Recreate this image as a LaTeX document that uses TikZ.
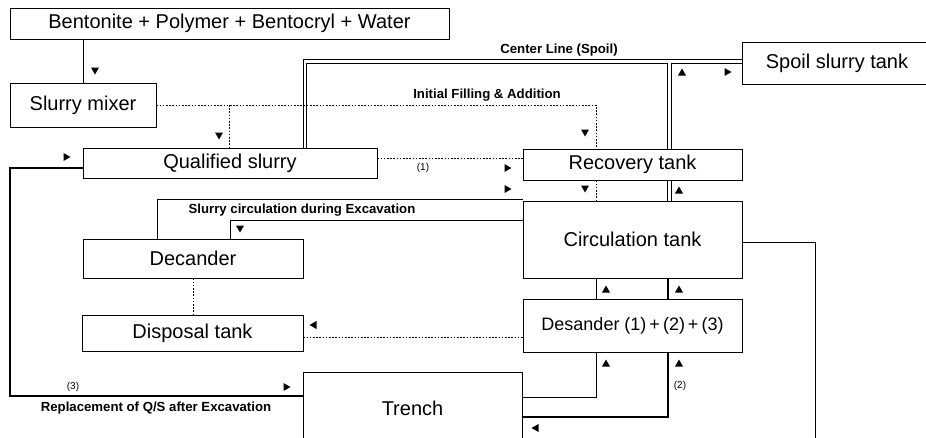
\documentclass[tikz,border=0pt]{standalone}
\usepackage{fontspec}
\setmainfont{Liberation Sans}
\usetikzlibrary{calc}
\newcommand\TriD[1]{\fill (#1) ++(-4,-3.5) -- ++(8,0) -- ++(-4,7) -- cycle;}
\newcommand\TriU[1]{\fill (#1) ++(-4,3.5) -- ++(8,0) -- ++(-4,-7) -- cycle;}
\newcommand\TriR[1]{\fill (#1) ++(-3.5,-4) -- ++(0,8) -- ++(7,-4) -- cycle;}
\newcommand\TriL[1]{\fill (#1) ++(3.5,-4) -- ++(0,8) -- ++(-7,-4) -- cycle;}
\tikzset{
 box/.style={draw, line width=0.9pt, inner sep=0pt, align=center, font=\fontsize{20}{24}\selectfont},
 thinln/.style={line width=0.9pt},
 thickln/.style={line width=2.8pt},
 dotln/.style={line width=0.9pt, dash pattern=on 1.6pt off 1.6pt},
 lbl/.style={font=\bfseries\fontsize{13.2}{15}\selectfont, inner sep=0pt},
 num/.style={font=\fontsize{10}{12}\selectfont, inner sep=0pt},
}
\begin{document}
\begin{tikzpicture}[x=1pt,y=-1pt]
\useasboundingbox (0,0) rectangle (926,437);
\clip (0,0) rectangle (926,437);
% boxes
\node[box, minimum width=439pt, minimum height=31pt] (top) at (229.5,23.5) {Bentonite + Polymer + Bentocryl + Water};
\node[box, minimum width=146pt, minimum height=44pt] (mixer) at (83,105) {Slurry mixer};
\node[box, minimum width=190pt, minimum height=42pt] (spoil) at (837,63) {Spoil slurry tank};
\node[box, minimum width=294pt, minimum height=30pt] (qs) at (230,163) {Qualified slurry};
\node[box, minimum width=219pt, minimum height=31pt] (rec) at (632.5,164.5) {Recovery tank};
\node[box, minimum width=219pt, minimum height=77pt] (circ) at (632.5,239.5) {Circulation tank};
\node[box, minimum width=220pt, minimum height=39pt] (dec) at (193,258.5) {Decander};
\node[box, minimum width=221pt, minimum height=36pt] (disp) at (192.5,333) {Disposal tank};
\node[box, minimum width=219pt, minimum height=53pt, font=\fontsize{18}{22}\selectfont] (des) at (632.5,325.5) {Desander (1)\,+\,(2)\,+\,(3)};
\node[box, minimum width=219pt, minimum height=73pt] (tr) at (412.5,408.5) {Trench};
% top -> mixer
\draw[thinln] (top.south -| mixer.north) -- (mixer.north);
\TriD{95,71}
% initial filling
\coordinate (ifr) at (596,104);
\coordinate (ifq) at (229,104);
\draw[dotln] (mixer.east) -- (mixer.east -| ifr) -- (ifr |- rec.north);
\draw[dotln] (mixer.east -| ifq) -- (ifq |- qs.north);
\TriD{219,136}
\TriD{585,133}
\node[lbl] at (487,95) {Initial Filling \& Addition};
\draw[dotln] (ifr |- rec.south) -- (ifr |- circ.north);
\TriD{585,189}
% center line (double)
\coordinate (oL) at (303,59);
\coordinate (iL) at (306,63);
\coordinate (sL) at (667,63);
\coordinate (sR) at (671,63);
\draw[thinln] (oL |- qs.north) -- (oL) -- (oL -| spoil.west);
\draw[thinln] (iL |- qs.north) -- (iL) -- (sL) -- (sL |- rec.north);
\draw[thinln] (sR |- rec.north) -- (sR) -- (sR -| spoil.west);
\draw[thinln] (sL |- rec.south) -- (sL |- circ.north);
\draw[thinln] (sR |- rec.south) -- (sR |- circ.north);
\node[lbl] at (559,50) {Center Line (Spoil)};
\TriU{682,72}
\TriR{728,72}
\TriU{679,190}
% qs -> recovery
\coordinate (q1) at (0,158);
\draw[dotln] (qs.east |- q1) -- (rec.west |- q1);
\node[num] at (423,168) {(1)};
\TriR{508,168}
% replacement (thick)
\coordinate (r1) at (10,168);
\coordinate (r2) at (10,396);
\draw[thickln] (qs.west |- r1) -- (r1) -- (r2) -- (r2 -| tr.west);
\TriR{67,157}
\TriR{287,387}
\node[num] at (73,387) {(3)};
\node[lbl] at (156,408) {Replacement of Q/S after Excavation};
% slurry circulation
\coordinate (c1) at (157,199);
\coordinate (c2) at (230,220);
\draw[thinln] (c1 |- dec.north) -- (c1) -- (c1 -| circ.west);
\draw[thinln] (circ.west |- c2) -- (c2) -- (c2 |- dec.north);
\TriD{240,229}
\TriR{508,189}
\node[lbl] at (302,210) {Slurry circulation during Excavation};
% decander -> disposal, desander -> disposal
\draw[dotln] (dec.south) -- (dec.south |- disp.north);
\coordinate (d1) at (0,337);
\draw[dotln] (des.west |- d1) -- (disp.east |- d1);
\TriL{313,325}
% desander -> circulation
\coordinate (a1) at (596,0);
\coordinate (a2) at (668,0);
\draw[thinln] (a1 |- des.north) -- (a1 |- circ.south);
\draw[thickln] (a2 |- des.north) -- (a2 |- circ.south);
\TriU{606,289}
\TriU{679,289}
% trench -> desander
\coordinate (t1) at (596,397);
\coordinate (t2) at (668,417);
\draw[thinln] (tr.east |- t1) -- (t1) -- (t1 |- des.south);
\draw[thickln] (tr.east |- t2) -- (t2) -- (t2 |- des.south);
\TriU{606,363}
\TriU{679,363}
\node[num] at (680,386) {(2)};
% circulation -> trench return
\coordinate (b1) at (815,242);
\coordinate (b2) at (815,441);
\draw[thinln] (circ.east |- b1) -- (b1) -- (b2) -- (b2 -| tr.east);
\TriL{535,428}
\end{tikzpicture}
\end{document}
